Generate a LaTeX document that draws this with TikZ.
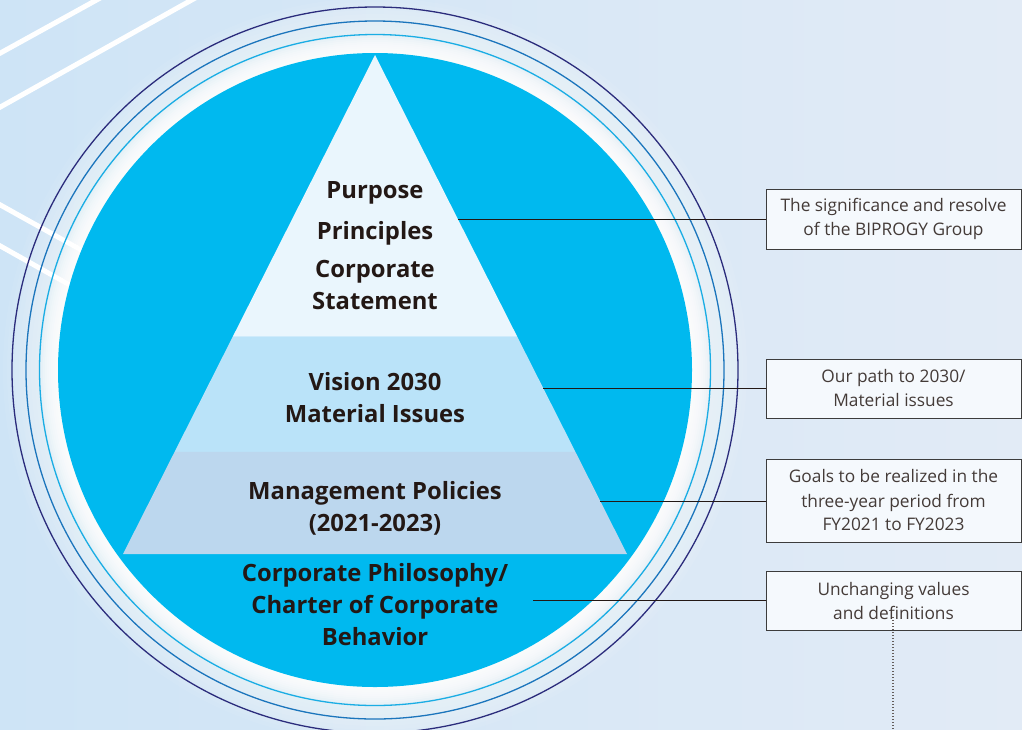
\documentclass[tikz,border=0pt]{standalone}
\usepackage{fontspec}
\setmainfont{Open Sans}
\usetikzlibrary{calc}
\definecolor{bgL}{RGB}{206,228,246}
\definecolor{bgR}{RGB}{226,235,246}
\definecolor{cyanfill}{RGB}{0,185,239}
\definecolor{topband}{RGB}{234,246,253}
\definecolor{midband}{RGB}{186,227,249}
\definecolor{lowband}{RGB}{188,215,238}
\definecolor{navyring}{RGB}{43,44,124}
\definecolor{midring}{RGB}{27,117,188}
\definecolor{lightring}{RGB}{26,173,228}
\definecolor{ink}{RGB}{35,24,21}
\definecolor{boxfill}{RGB}{245,249,253}
\definecolor{boxline}{RGB}{60,60,60}
\tikzset{
  ringline/.style={line width=1.3pt},
  stripe/.style={white, line width=5pt},
  pyrtext/.style={font=\fontsize{23.8}{32}\selectfont\bfseries, text=ink, align=center, inner sep=0pt},
  notebox/.style={draw=boxline, line width=0.9pt, fill=boxfill, minimum width=255pt, inner sep=0pt, align=center, text=ink!85, font=\fontsize{17.3}{24}\selectfont},
  leader/.style={draw=ink, line width=1pt},
}
\begin{document}
\begin{tikzpicture}[x=1pt,y=-1pt]
\useasboundingbox (0,0) rectangle (1022,729);
\shade[left color=bgL, right color=bgR] (0,0) rectangle (1022,729);
% stripes
\draw[stripe] (-5,56) -- (102,-3);
\draw[stripe] (-5,110) -- (197,-3);
\draw[stripe] (-5,202) -- (110,266);
\draw[stripe] (-5,243) -- (100,302);
\coordinate (C) at (375,370);
% glow
\foreach \r in {372,368,...,324} {
  \fill[white, opacity=0.06] (C) circle (\r);
}
\foreach \r in {334,332,...,318} {
  \fill[white, opacity=0.2] (C) circle (\r);
}
% rings
\draw[ringline, navyring] (C) circle (363);
\draw[ringline, midring] (C) circle (349);
\draw[ringline, lightring] (C) circle (335.5);
% filled circle
\fill[cyanfill] (C) circle (317);
% pyramid
\coordinate (A) at (375,55);
\coordinate (BL) at (123,554);
\coordinate (BR) at (627,554);
\coordinate (L1) at ($(A)!{281/499}!(BL)$);
\coordinate (R1) at ($(A)!{281/499}!(BR)$);
\coordinate (L2) at ($(A)!{396/499}!(BL)$);
\coordinate (R2) at ($(A)!{396/499}!(BR)$);
\fill[topband] (A) -- (R1) -- (L1) -- cycle;
\fill[midband] (L1) -- (R1) -- (R2) -- (L2) -- cycle;
\fill[lowband] (L2) -- (R2) -- (BR) -- (BL) -- cycle;
\draw[line width=0.8pt, color=midband!80!lowband] (L2) -- (R2);
\draw[line width=0.8pt, color=midband!70!white] (L1) -- (R1);
% pyramid text
\node[pyrtext] (purpose) at (375,193) {Purpose};
\node[pyrtext] (principles) at (375,233) {Principles};
\node[pyrtext] (statement) at (375,285) {Corporate\\Statement};
\node[pyrtext] (vision) at (375,398) {Vision 2030\\Material Issues};
\node[pyrtext] (mgmt) at (375,508.5) {Management Policies\\(2021-2023)};
\node[pyrtext] (philo) at (375,605) {Corporate Philosophy/\\Charter of Corporate\\Behavior};
% boxes
\node[notebox, minimum height=60pt] (b1) at (893.5,219) {The significance and resolve\\of the BIPROGY Group};
\node[notebox, minimum height=59pt] (b2) at (893.5,388.5) {Our path to 2030/\\Material issues};
\node[notebox, minimum height=83pt] (b3) at (893.5,500.5) {Goals to be realized in the\\three-year period from\\FY2021 to FY2023};
\node[notebox, minimum height=59pt] (b4) at (893.5,600.5) {Unchanging values\\and definitions};
% leaders
\coordinate (e1) at ($(A)!{164/499}!(BR)$);
\coordinate (e2) at ($(A)!{333/499}!(BR)$);
\coordinate (e3) at ($(A)!{446/499}!(BR)$);
\coordinate (e4) at (533,600.5);
\draw[leader] (e1) -- (e1 -| b1.west);
\draw[leader] (e2) -- (e2 -| b2.west);
\draw[leader] (e3) -- (e3 -| b3.west);
\draw[leader] (e4) -- (b4.west);
\coordinate (d0) at (893,617);
\coordinate (d1) at (893,729);
\draw[ink!70, line width=1.2pt, dash pattern=on 1pt off 2pt] (d0) -- (d1);
\end{tikzpicture}
\end{document}
